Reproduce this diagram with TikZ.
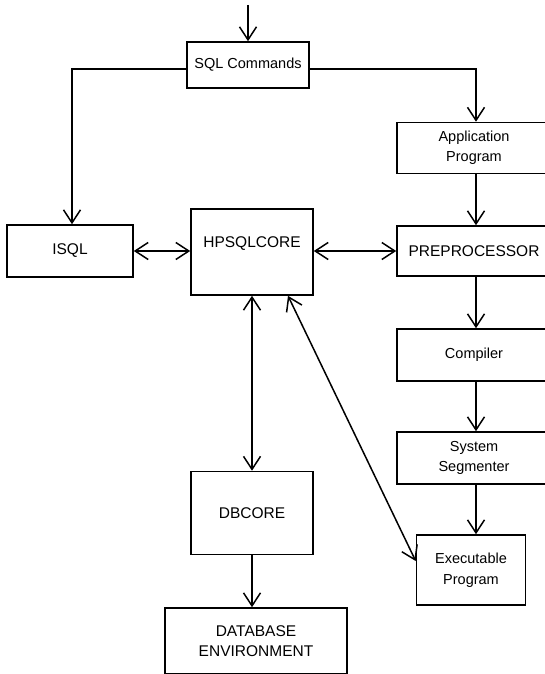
\documentclass[tikz,border=0pt]{standalone}
\usepackage{fontspec}
\setmainfont{Liberation Sans}
\usepackage{tikz}
\usetikzlibrary{arrows.meta}
\tikzset{>={Straight Barb[length=13pt,width=17pt]},
  blk/.style={draw, rectangle, line width=1.6pt, inner sep=2pt, align=center},
  bigtxt/.style={font=\fontsize{15.5}{20}\selectfont},
  smalltxt/.style={font=\fontsize{14.5}{20.5}\selectfont},
  flow/.style={line width=1.5pt}}

\begin{document}
\begin{tikzpicture}[x=1pt,y=-1pt]

  \useasboundingbox (0,0) rectangle (544,674);

  % middle and left column
  \node [blk, smalltxt, minimum width=122pt, minimum height=46pt] (sql) at (248,65) {SQL Commands};
  \node [blk, bigtxt, minimum width=126pt, minimum height=52pt] (isql) at (70,251) {ISQL};
  \node [blk, bigtxt, minimum width=122pt, minimum height=86pt, text depth=20pt] (hpsql) at (252,252) {HPSQLCORE};
  \node [blk, bigtxt, minimum width=122pt, minimum height=83pt] (dbcore) at (252,513) {DBCORE};
  \node [blk, bigtxt, minimum width=182pt, minimum height=66pt] (dbenv) at (256,641) {DATABASE\\ENVIRONMENT};

  % right column, runs off the right edge
  \node [blk, smalltxt, minimum width=154pt, minimum height=51pt] (app) at (474,148) {Application\\Program};
  \node [blk, bigtxt, minimum width=154pt, minimum height=50pt] (prep) at (474,251) {PREPROCESSOR};
  \node [blk, smalltxt, minimum width=154pt, minimum height=52pt] (comp) at (474,355) {Compiler};
  \node [blk, smalltxt, minimum width=154pt, minimum height=52pt] (seg) at (474,458) {System\\Segmenter};
  \node [blk, smalltxt, minimum width=109pt, minimum height=70pt] (exec) at (471,570) {Executable\\Program};

  \coordinate (in) at (248,5);

  \draw [flow, ->] (in) -- (sql);
  \draw [flow, ->] ([yshift=-4pt]sql.west) -| ([xshift=2pt]isql.north);
  \draw [flow, ->] ([yshift=-4pt]sql.east) -| ([xshift=2pt]app.north);

  \draw [flow, <->] (isql.east) -- (isql.east -| hpsql.west);
  \draw [flow, <->] (prep.west -| hpsql.east) -- (prep.west);
  \draw [flow, <->] (hpsql) -- (dbcore);
  \draw [flow, <->] ([xshift=36pt]hpsql.south) -- ([yshift=9pt]exec.west);
  \draw [flow, ->] (dbcore) -- (dbcore |- dbenv.north);

  \draw [flow, ->] ([xshift=2pt]app.south) -- ([xshift=2pt]prep.north);
  \draw [flow, ->] ([xshift=2pt]prep.south) -- ([xshift=2pt]comp.north);
  \draw [flow, ->] ([xshift=2pt]comp.south) -- ([xshift=2pt]seg.north);
  \draw [flow, ->] ([xshift=2pt]seg.south) -- ([xshift=5pt]exec.north);

\end{tikzpicture}
\end{document}
